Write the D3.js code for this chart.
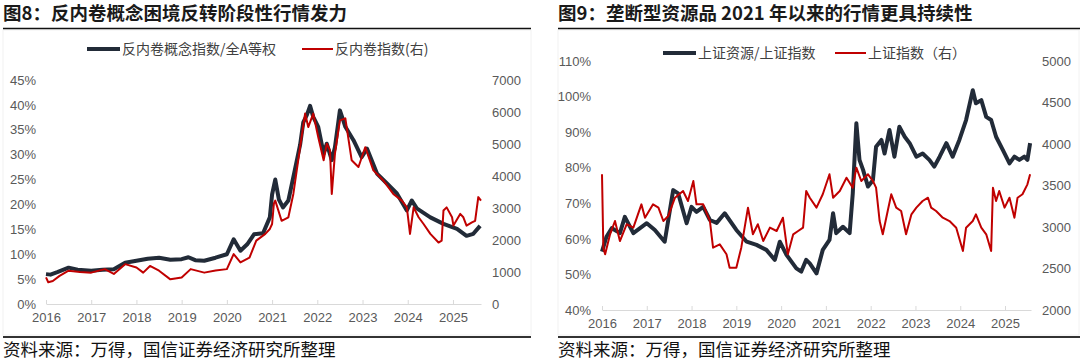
<!DOCTYPE html>
<html>
<head>
<meta charset="utf-8">
<script src="https://cdn.jsdelivr.net/npm/d3@7"></script>
<style>
  body { margin: 0; background: #fff; }
  svg text { font-family: "Liberation Sans", "Noto Sans CJK SC", sans-serif; }
  .cjk { font-family: "Noto Sans CJK SC", sans-serif; }
</style>
</head>
<body>
<svg id="chart" width="1080" height="362"></svg>
<script>
// ---- data: left chart (fig 8) ----
const yearTicks = [2016, 2017, 2018, 2019, 2020, 2021, 2022, 2023, 2024, 2025];

// 反内卷概念指数/全A等权 (%), [year, value]
const antiRatio = [
  [2016.00, 6.0], [2016.10, 5.9], [2016.25, 6.4], [2016.50, 7.3], [2016.70, 6.9],
  [2017.00, 6.7], [2017.25, 6.9], [2017.50, 7.0], [2017.75, 8.3], [2018.00, 8.7],
  [2018.25, 9.1], [2018.50, 9.3], [2018.75, 8.9], [2019.00, 9.0], [2019.15, 9.4],
  [2019.30, 8.8], [2019.50, 8.7], [2019.75, 9.3], [2020.00, 10.0], [2020.15, 13.0],
  [2020.30, 10.7], [2020.45, 12.0], [2020.60, 14.0], [2020.80, 14.2], [2020.95, 17.4],
  [2021.00, 22.0], [2021.07, 25.0], [2021.15, 21.0], [2021.24, 19.4], [2021.36, 20.8],
  [2021.50, 26.8], [2021.62, 32.0], [2021.69, 36.5], [2021.77, 38.0], [2021.84, 39.8],
  [2021.91, 37.6], [2022.02, 35.6], [2022.14, 30.2], [2022.21, 32.2], [2022.32, 28.9],
  [2022.39, 31.5], [2022.50, 38.9], [2022.57, 37.0], [2022.62, 35.6], [2022.80, 32.9],
  [2022.98, 29.5], [2023.10, 31.2], [2023.32, 26.2], [2023.54, 24.2], [2023.76, 22.2],
  [2023.98, 18.8], [2024.09, 20.8], [2024.20, 19.2], [2024.50, 17.4], [2024.79, 16.1],
  [2025.09, 15.1], [2025.30, 13.7], [2025.45, 14.1], [2025.60, 15.7]
];

// 反内卷指数 (right axis)
const antiIndex = [
  [2016.00, 830], [2016.05, 680], [2016.15, 720], [2016.30, 880], [2016.50, 1040],
  [2016.75, 1000], [2017.00, 980], [2017.30, 1090], [2017.50, 940], [2017.75, 1245],
  [2018.00, 1140], [2018.15, 980], [2018.30, 1190], [2018.50, 1040], [2018.75, 770],
  [2019.00, 830], [2019.20, 1090], [2019.50, 980], [2019.75, 1050], [2020.00, 1090],
  [2020.15, 1560], [2020.30, 1300], [2020.50, 1450], [2020.65, 1980], [2020.85, 2190],
  [2020.95, 2345], [2021.00, 2500], [2021.04, 3140], [2021.07, 3230], [2021.21, 2600],
  [2021.36, 2710], [2021.47, 3440], [2021.62, 4900], [2021.73, 5950], [2021.80, 5530],
  [2021.91, 5950], [2022.02, 5220], [2022.14, 4490], [2022.21, 5010], [2022.28, 4800],
  [2022.32, 3440], [2022.39, 4700], [2022.50, 5740], [2022.62, 5800], [2022.76, 4490],
  [2022.91, 4280], [2023.06, 4900], [2023.24, 4175], [2023.46, 3860], [2023.68, 3440],
  [2023.87, 3230], [2023.98, 3020], [2024.05, 2190], [2024.13, 3020], [2024.24, 2710],
  [2024.35, 2500], [2024.50, 2190], [2024.68, 1920], [2024.75, 1980], [2024.79, 2920],
  [2024.86, 3020], [2024.98, 2710], [2025.01, 2450], [2025.16, 2815], [2025.23, 2710],
  [2025.30, 2450], [2025.42, 2550], [2025.49, 2600], [2025.56, 3340], [2025.62, 3230]
];

// ---- data: right chart (fig 9) ----
// 上证资源/上证指数 (%)
const resRatio = [
  [2016.00, 56.4], [2016.10, 60.6], [2016.22, 63.0], [2016.40, 61.6], [2016.51, 66.2],
  [2016.70, 61.6], [2017.00, 64.4], [2017.18, 62.5], [2017.40, 59.2], [2017.59, 73.7],
  [2017.70, 72.8], [2017.89, 64.4], [2018.00, 69.0], [2018.11, 67.6], [2018.26, 69.0],
  [2018.41, 65.3], [2018.56, 64.5], [2018.74, 67.2], [2019.00, 62.5], [2019.23, 59.2],
  [2019.45, 58.3], [2019.67, 56.9], [2019.86, 54.1], [2019.97, 59.2], [2020.12, 55.5],
  [2020.34, 51.7], [2020.45, 50.8], [2020.56, 54.1], [2020.64, 53.1], [2020.79, 50.3],
  [2020.93, 56.9], [2021.08, 59.7], [2021.16, 67.2], [2021.23, 61.6], [2021.38, 63.4],
  [2021.53, 61.6], [2021.60, 72.8], [2021.68, 92.5], [2021.75, 82.2], [2021.83, 79.4],
  [2021.94, 74.7], [2022.05, 76.5], [2022.12, 85.9], [2022.24, 87.8], [2022.31, 84.0],
  [2022.42, 90.6], [2022.53, 83.1], [2022.64, 91.5], [2022.76, 88.7], [2022.87, 86.9],
  [2023.02, 83.1], [2023.16, 84.0], [2023.31, 82.2], [2023.42, 80.3], [2023.54, 83.1],
  [2023.69, 86.9], [2023.83, 83.1], [2023.98, 87.8], [2024.13, 93.4], [2024.28, 101.8],
  [2024.35, 98.1], [2024.47, 99.0], [2024.58, 94.3], [2024.69, 93.4], [2024.80, 88.7],
  [2024.95, 85.0], [2025.10, 81.2], [2025.21, 83.1], [2025.32, 82.2], [2025.43, 83.1],
  [2025.50, 82.2], [2025.56, 86.9]
];

// 上证指数 (right axis)
const shIndex = [
  [2016.00, 3635], [2016.03, 2750], [2016.07, 2671], [2016.18, 2912], [2016.29, 3072],
  [2016.40, 2831], [2016.55, 3033], [2016.70, 2992], [2016.88, 3273], [2016.96, 3112],
  [2017.14, 3273], [2017.26, 3233], [2017.37, 3072], [2017.48, 3133], [2017.63, 3353],
  [2017.81, 3434], [2017.92, 3313], [2018.04, 3554], [2018.11, 3273], [2018.26, 3273],
  [2018.41, 3072], [2018.48, 2751], [2018.63, 2791], [2018.78, 2671], [2018.85, 2510],
  [2019.00, 2510], [2019.11, 2751], [2019.26, 3233], [2019.37, 2912], [2019.48, 3033],
  [2019.60, 2831], [2019.75, 2992], [2019.90, 2952], [2020.04, 3112], [2020.15, 2671],
  [2020.27, 2912], [2020.38, 2952], [2020.49, 2992], [2020.56, 3434], [2020.64, 3353],
  [2020.79, 3233], [2020.93, 3394], [2021.08, 3635], [2021.16, 3353], [2021.31, 3434],
  [2021.46, 3594], [2021.60, 3474], [2021.68, 3715], [2021.79, 3554], [2021.94, 3635],
  [2022.05, 3554], [2022.12, 3474], [2022.20, 3072], [2022.27, 2912], [2022.38, 3193],
  [2022.46, 3394], [2022.57, 3233], [2022.68, 3193], [2022.79, 2912], [2022.91, 3153],
  [2023.02, 3233], [2023.16, 3313], [2023.28, 3353], [2023.35, 3233], [2023.46, 3193],
  [2023.61, 3112], [2023.76, 3072], [2023.91, 2992], [2024.06, 2711], [2024.13, 2992],
  [2024.28, 3072], [2024.35, 3153], [2024.47, 2992], [2024.58, 2912], [2024.69, 2711],
  [2024.73, 3474], [2024.80, 3313], [2024.87, 3434], [2024.99, 3233], [2025.10, 3353],
  [2025.21, 3112], [2025.28, 3353], [2025.39, 3394], [2025.50, 3514], [2025.56, 3635]
];

const darkColor = '#222b38';
const redColor = '#c00000';
const labelColor = '#595959';

const svg = d3.select('#chart');

function drawPanel(cfg) {
  const g = svg.append('g');

  // faint frame of the chart area
  g.append('rect')
    .attr('x', cfg.frame[0]).attr('y', 30)
    .attr('width', cfg.frame[1] - cfg.frame[0]).attr('height', 305)
    .attr('fill', 'none').attr('stroke', '#f2f2f2');

  // title + rules
  g.append('text').attr('class', 'cjk')
    .attr('x', cfg.titleX).attr('y', 20)
    .attr('font-size', 18.5).attr('font-weight', 700).attr('fill', '#1a1a1a')
    .text(cfg.title);
  g.append('line')
    .attr('x1', cfg.titleX).attr('x2', cfg.ruleEnd).attr('y1', 28.5).attr('y2', 28.5)
    .attr('stroke', '#111').attr('stroke-width', 1.3);
  g.append('line')
    .attr('x1', cfg.titleX).attr('x2', cfg.ruleEnd).attr('y1', 337).attr('y2', 337)
    .attr('stroke', '#333').attr('stroke-width', 2);
  g.append('text').attr('class', 'cjk')
    .attr('x', cfg.titleX).attr('y', 356)
    .attr('font-size', 17.5).attr('fill', '#111')
    .text('资料来源：万得，国信证券经济研究所整理');

  const x = d3.scaleLinear().domain(cfg.xDomain).range(cfg.xRange);
  const yL = d3.scaleLinear().domain(cfg.yLDomain).range(cfg.yRange);
  const yR = d3.scaleLinear().domain(cfg.yRDomain).range(cfg.yRange);

  // x axis
  const xAxis = d3.axisBottom(x).tickValues(yearTicks).tickFormat(d3.format('d'))
    .tickSizeInner(-4).tickSizeOuter(0).tickPadding(9);
  const ax = g.append('g').attr('transform', `translate(0,${cfg.yRange[0]})`).call(xAxis);
  ax.select('.domain').attr('stroke', '#d9d9d9');
  ax.selectAll('.tick line').attr('stroke', '#d9d9d9');
  ax.selectAll('text').attr('font-size', 13).attr('fill', labelColor);

  // left axis
  const lAxis = d3.axisLeft(yL).tickValues(cfg.yLTicks).tickFormat(d => d + '%')
    .tickSize(0).tickPadding(0);
  const al = g.append('g').attr('transform', `translate(${cfg.yLabelL},0)`).call(lAxis);
  al.select('.domain').remove();
  al.selectAll('text').attr('font-size', 13).attr('fill', labelColor);

  // right axis
  const rAxis = d3.axisRight(yR).tickValues(cfg.yRTicks).tickFormat(d3.format('d'))
    .tickSize(0).tickPadding(0);
  const ar = g.append('g').attr('transform', `translate(${cfg.yLabelR},0)`).call(rAxis);
  ar.select('.domain').remove();
  ar.selectAll('text').attr('font-size', 13).attr('fill', labelColor);

  // series
  g.append('path').datum(cfg.dark)
    .attr('fill', 'none').attr('stroke', darkColor).attr('stroke-width', 4)
    .attr('stroke-linejoin', 'round')
    .attr('d', d3.line().x(d => x(d[0])).y(d => yL(d[1])));
  g.append('path').datum(cfg.red)
    .attr('fill', 'none').attr('stroke', redColor).attr('stroke-width', 2)
    .attr('stroke-linejoin', 'round')
    .attr('d', d3.line().x(d => x(d[0])).y(d => yR(d[1])));

  // legend
  const lg = g.append('g').attr('transform', `translate(0,${cfg.legendY})`);
  lg.append('line').attr('x1', cfg.legendX[0]).attr('x2', cfg.legendX[0] + 33)
    .attr('stroke', darkColor).attr('stroke-width', 4);
  lg.append('text').attr('class', 'cjk').attr('x', cfg.legendX[0] + 35).attr('dy', '0.35em')
    .attr('font-size', 14).attr('fill', '#404040').text(cfg.names[0]);
  lg.append('line').attr('x1', cfg.legendX[1]).attr('x2', cfg.legendX[1] + 31)
    .attr('stroke', redColor).attr('stroke-width', 2);
  lg.append('text').attr('class', 'cjk').attr('x', cfg.legendX[1] + 33).attr('dy', '0.35em')
    .attr('font-size', 14).attr('fill', '#404040').text(cfg.names[1]);
}

drawPanel({
  title: '图8：反内卷概念困境反转阶段性行情发力',
  titleX: 3, ruleEnd: 531, frame: [3, 531],
  xDomain: [2016, 2025.62], xRange: [46, 481],
  yRange: [304, 80],
  yLDomain: [0, 45], yLTicks: [0, 5, 10, 15, 20, 25, 30, 35, 40, 45], yLabelL: 36,
  yRDomain: [0, 7000], yRTicks: [0, 1000, 2000, 3000, 4000, 5000, 6000, 7000], yLabelR: 492,
  dark: antiRatio, red: antiIndex,
  names: ['反内卷概念指数/全A等权', '反内卷指数(右)'],
  legendY: 49, legendX: [87, 302]
});

drawPanel({
  title: '图9：垄断型资源品 2021 年以来的行情更具持续性',
  titleX: 558, ruleEnd: 1080, frame: [558, 1079],
  xDomain: [2016, 2025.58], xRange: [602, 1031],
  yRange: [310, 61],
  yLDomain: [40, 110], yLTicks: [40, 50, 60, 70, 80, 90, 100, 110], yLabelL: 591,
  yRDomain: [2000, 5000], yRTicks: [2000, 2500, 3000, 3500, 4000, 4500, 5000], yLabelR: 1042,
  dark: resRatio, red: shIndex,
  names: ['上证资源/上证指数', '上证指数（右）'],
  legendY: 53, legendX: [663, 835]
});
</script>
</body>
</html>
